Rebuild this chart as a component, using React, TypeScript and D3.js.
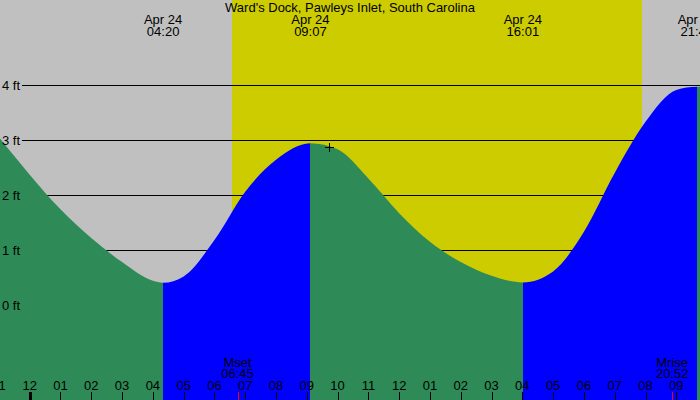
import React from "react";
import * as d3 from "d3";

const title = "Ward's Dock, Pawleys Inlet, South Carolina";
const dateLabel = "Apr 24";

// Tide extremes
const extremeTimes = ["04:20", "09:07", "16:01", "21:40"];
const extremeFeet = [0.405, 2.94, 0.41, 3.97];

// Tide curve (hours since midnight Apr 24, feet)
const curveHours = [-1, 0, 1, 2, 3, 4, 4.333, 5, 6, 7, 8, 9.117, 10, 11, 12, 13, 14, 15, 16.017, 17, 18, 19, 20, 21, 21.667, 22];
const curveFeet = [3.05, 2.37, 1.74, 1.22, 0.78, 0.44, 0.405, 0.52, 1.18, 2.06, 2.64, 2.94, 2.83, 2.3, 1.67, 1.15, 0.78, 0.53, 0.41, 0.61, 1.33, 2.4, 3.33, 3.91, 3.97, 3.95];

// Sun
const sunrise = "06:34";
const sunset = "19:53";

// Moon events
const moonLabels = ["Mset", "Mrise"];
const moonTimes = ["06:45", "20:52"];

// Axis
const feetTicks = [0, 1, 2, 3, 4];
const hourTicks = d3.range(-1, 22);

// Current-time marker
const nowHour = 9.73;
const nowFeet = 2.87;

const W = 700;
const H = 400;
const FONT = "'Liberation Sans', Arial, sans-serif";

const toHours = (s: string) => {
  const [h, m] = s.split(":").map(Number);
  return h + m / 60;
};

const hourLabel = (h: number) => {
  const v = ((h % 12) + 12) % 12 || 12;
  return String(v).padStart(2, "0");
};

export default function App() {
  const x = d3.scaleLinear().domain([-29.7 / 30.79, (W - 29.7) / 30.79]).range([0, W]);
  const y = d3.scaleLinear().domain([0, 4]).range([305, 85]);

  const pts = curveHours.map((h, i) => ({ h, v: curveFeet[i] }));
  const area = d3
    .area<{ h: number; v: number }>()
    .x((d) => x(d.h))
    .y0(H)
    .y1((d) => y(d.v))
    .curve(d3.curveMonotoneX);
  const areaPath = area(pts) || "";

  const extH = extremeTimes.map(toHours);
  const bounds = [-3, ...extH, 24];
  const segColors = ["#2e8b57", "#0000ff", "#2e8b57", "#0000ff", "#2e8b57"];

  const sx0 = Math.round(x(toHours(sunrise)));
  const sx1 = Math.round(x(toHours(sunset)));

  return (
    <>
      <style>{`body{margin:0}`}</style>
      <svg width={W} height={H} style={{ display: "block" }} fontFamily={FONT}>
        <defs>
          {segColors.map((c, i) => {
            const a = Math.round(x(bounds[i]));
            const b = Math.round(x(bounds[i + 1]));
            return (
              <clipPath id={`seg${i}`} key={i}>
                <rect x={a} y={0} width={b - a} height={H} />
              </clipPath>
            );
          })}
        </defs>
        <rect x={0} y={0} width={W} height={H} fill="#c0c0c0" />
        <rect x={sx0} y={0} width={sx1 - sx0} height={H} fill="#cccc00" />

        {feetTicks.map((f) => (
          <line key={f} x1={22} x2={W} y1={y(f) + 0.5} y2={y(f) + 0.5} stroke="#000" strokeWidth={1} />
        ))}

        <g shapeRendering="crispEdges">
          {segColors.map((c, i) => (
            <path key={i} d={areaPath} fill={c} clipPath={`url(#seg${i})`} shapeRendering="auto" />
          ))}
        </g>

        {feetTicks.map((f) => (
          <text key={f} x={2} y={y(f) + 5} fontSize={13} fill="#000">
            {`${f} ft`}
          </text>
        ))}

        <text x={W / 2} y={12} fontSize={13} textAnchor="middle" fill="#000">
          {title}
        </text>
        {extremeTimes.map((t, i) => (
          <g key={t}>
            <text x={x(extH[i])} y={24} fontSize={13} textAnchor="middle" fill="#000">
              {dateLabel}
            </text>
            <text x={x(extH[i])} y={36} fontSize={13} textAnchor="middle" fill="#000">
              {t}
            </text>
          </g>
        ))}

        {hourTicks.map((h) => (
          <g key={h}>
            <line
              x1={Math.round(x(h)) + 0.5}
              x2={Math.round(x(h)) + 0.5}
              y1={392}
              y2={H}
              stroke="#000"
              strokeWidth={h === 0 ? 3 : 1}
            />
            <text x={x(h)} y={390} fontSize={13} textAnchor="middle" fill="#000">
              {hourLabel(h)}
            </text>
          </g>
        ))}

        {moonTimes.map((t, i) => {
          const mx = x(toHours(t));
          return (
            <g key={t}>
              <line x1={Math.round(mx) + 0.5} x2={Math.round(mx) + 0.5} y1={392} y2={H} stroke="#ff0000" strokeWidth={1} />
              <text x={mx} y={367} fontSize={13} textAnchor="middle" fill="#000">
                {moonLabels[i]}
              </text>
              <text x={mx} y={378} fontSize={13} textAnchor="middle" fill="#000">
                {t}
              </text>
            </g>
          );
        })}

        <g transform={`translate(${Math.round(x(nowHour)) + 0.5},${Math.round(y(nowFeet)) + 0.5})`}>
          <line x1={-4.5} x2={4.5} y1={0} y2={0} stroke="#000" strokeWidth={1} />
          <line x1={0} x2={0} y1={-4.5} y2={4.5} stroke="#000" strokeWidth={1} />
        </g>
      </svg>
    </>
  );
}
